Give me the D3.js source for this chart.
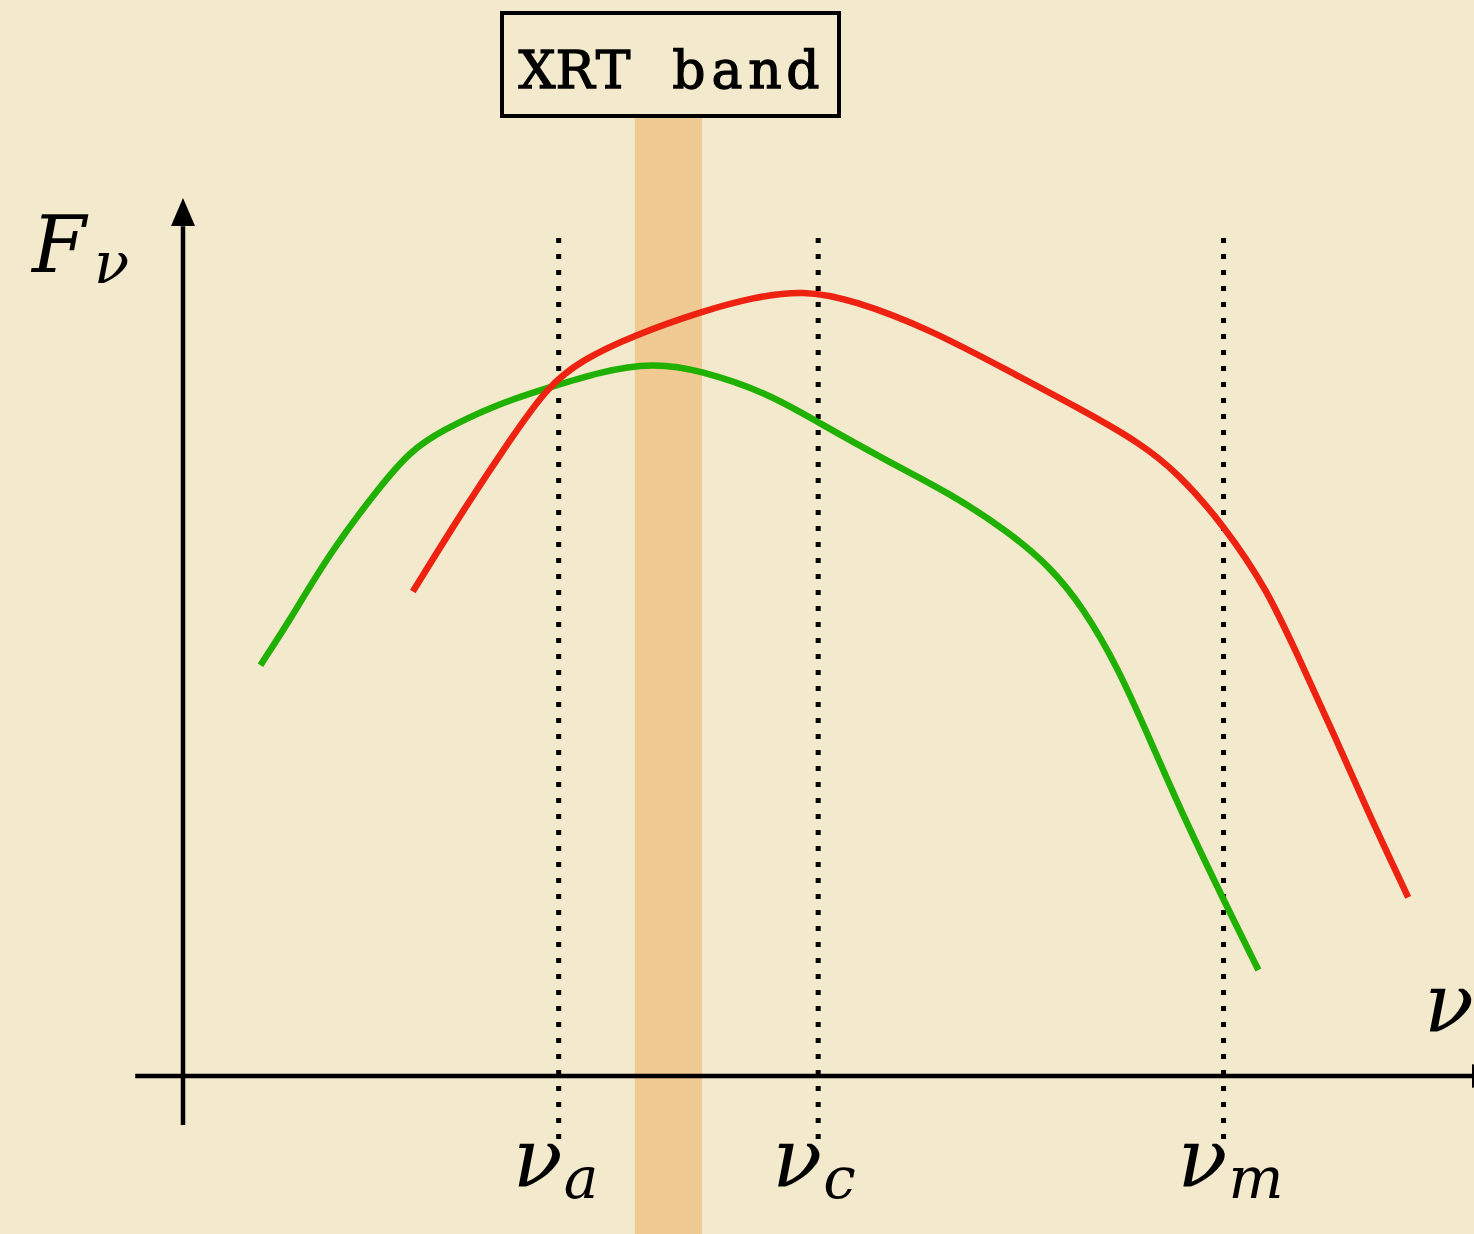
<!DOCTYPE html>
<meta charset="utf-8">
<script src="https://cdn.jsdelivr.net/npm/d3@7/dist/d3.min.js"></script>
<style>
body { margin: 0; background: #f3e9cd; }
svg { display: block; }
.curve { fill: none; stroke-width: 6.5px; stroke-linejoin: round; }
.dots { stroke: #000; stroke-width: 5px; stroke-dasharray: 5,11; }
.axis { stroke: #000; stroke-width: 4.5px; }
.math { font-family: "DejaVu Serif", serif; font-style: italic; fill: #000; }
.tt { font-family: "DejaVu Serif", serif; fill: #000; stroke: #000; stroke-width: 1.3px; }
</style>
<body>
<script>

// frequency axis and flux axis in arbitrary units (0..100)
var breakNames = ["a", "c", "m"];
var breakFreqs = [29.1, 49.2, 80.6];

var xrtBand = [35.0, 40.2];
var boxLabel = "XRT band";

// green spectrum (earlier)
var greenNu = [6, 8.3, 11.4, 15.3, 17.6, 19.9, 24.5, 28.4, 32.3, 36.4, 40, 45.4, 49.2, 54.8, 59.3, 63.8, 67.2, 69.7, 72.4, 74.9, 77.5, 80.6, 83.3];
var greenF  = [46.9, 52.1, 59.8, 67.4, 71.3, 73.6, 76.8, 78.6, 80.4, 81.4, 80.6, 77.9, 74.6, 70, 66.6, 62.3, 58.1, 53.5, 46.7, 38.4, 29.6, 20.1, 12.1];

// red spectrum (later)
var redNu = [17.8, 21.7, 25.6, 28.2, 30.8, 35, 40.2, 44.2, 48, 51.9, 57.9, 63.8, 69.7, 74.1, 77.1, 80.6, 84, 86.5, 89.1, 91.7, 94.9];
var redF  = [55.3, 64.6, 73.2, 78.6, 81.7, 84.6, 87.3, 88.9, 89.7, 88.6, 85.2, 80.6, 76, 72.3, 68.8, 62.9, 55.5, 47.5, 39.2, 30.4, 20.4];

var width = 1474,
    height = 1234;

var x = d3.scaleLinear().domain([0, 100]).range([183, 1474]);
var y = d3.scaleLinear().domain([0, 100]).range([1076, 200]);

var svg = d3.select("body").append("svg")
    .attr("width", width)
    .attr("height", height);

svg.append("rect")
    .attr("width", width)
    .attr("height", height)
    .attr("fill", "#f3e9cd");

// XRT band
svg.append("rect")
    .attr("x", x(xrtBand[0]))
    .attr("y", 117)
    .attr("width", x(xrtBand[1]) - x(xrtBand[0]))
    .attr("height", height - 117)
    .attr("fill", "#f0c993");

// label box
svg.append("rect")
    .attr("x", 502)
    .attr("y", 13)
    .attr("width", 337)
    .attr("height", 103)
    .attr("fill", "none")
    .attr("stroke", "#000")
    .attr("stroke-width", 4);

// typewriter look: one glyph per fixed 38px cell
var cells = boxLabel.split("").map(function(c, i) { return 537 + i * 38; });
svg.append("text")
    .attr("class", "tt")
    .attr("x", cells.join(" "))
    .attr("y", 88)
    .attr("text-anchor", "middle")
    .style("font-size", "52px")
    .text(boxLabel);

// axes
svg.append("line").attr("class", "axis")
    .attr("x1", x(-3.7)).attr("x2", width)
    .attr("y1", y(0)).attr("y2", y(0));

svg.append("line").attr("class", "axis")
    .attr("x1", x(0)).attr("x2", x(0))
    .attr("y1", y(-5.6)).attr("y2", y(97));

svg.append("path")
    .attr("d", "M" + x(0) + "," + 198 + "L" + (x(0) - 12) + ",226L" + (x(0) + 12) + ",226Z")
    .attr("fill", "#000");

svg.append("path")
    .attr("d", "M1500," + y(0) + "L1472," + (y(0) - 12) + "L1472," + (y(0) + 12) + "Z")
    .attr("fill", "#000");

// break frequencies
svg.selectAll(".dots")
    .data(breakFreqs)
    .enter().append("line")
    .attr("class", "dots")
    .attr("x1", function(d) { return x(d); })
    .attr("x2", function(d) { return x(d); })
    .attr("y1", 238)
    .attr("y2", 1148);

var labels = svg.selectAll(".blabel")
    .data(breakFreqs)
    .enter().append("g")
    .attr("class", "blabel")
    .attr("transform", function(d) { return "translate(" + x(d) + ",0)"; });

labels.append("text")
    .attr("class", "math")
    .attr("x", -46)
    .attr("y", 1187)
    .style("font-size", "82px")
    .text("\u03BD");

labels.append("text")
    .attr("class", "math")
    .attr("x", 5)
    .attr("y", 1198)
    .style("font-size", "58px")
    .text(function(d, i) { return breakNames[i]; });

// axis labels
svg.append("text").attr("class", "math")
    .attr("x", 32).attr("y", 272)
    .style("font-size", "78px")
    .text("F");
svg.append("text").attr("class", "math")
    .attr("x", 94).attr("y", 283)
    .style("font-size", "58px")
    .text("\u03BD");
svg.append("text").attr("class", "math")
    .attr("x", 1424).attr("y", 1032)
    .style("font-size", "82px")
    .text("\u03BD");

// spectra
var line = d3.line()
    .x(function(d) { return x(d[0]); })
    .y(function(d) { return y(d[1]); })
    .curve(d3.curveBasis);

var greenData = greenNu.map(function(v, i) { return [v, greenF[i]]; });
var redData = redNu.map(function(v, i) { return [v, redF[i]]; });

svg.append("path")
    .datum(greenData)
    .attr("class", "curve")
    .attr("stroke", "#1fb000")
    .attr("d", line);

svg.append("path")
    .datum(redData)
    .attr("class", "curve")
    .attr("stroke", "#ee2210")
    .attr("d", line);

</script>
</body>
